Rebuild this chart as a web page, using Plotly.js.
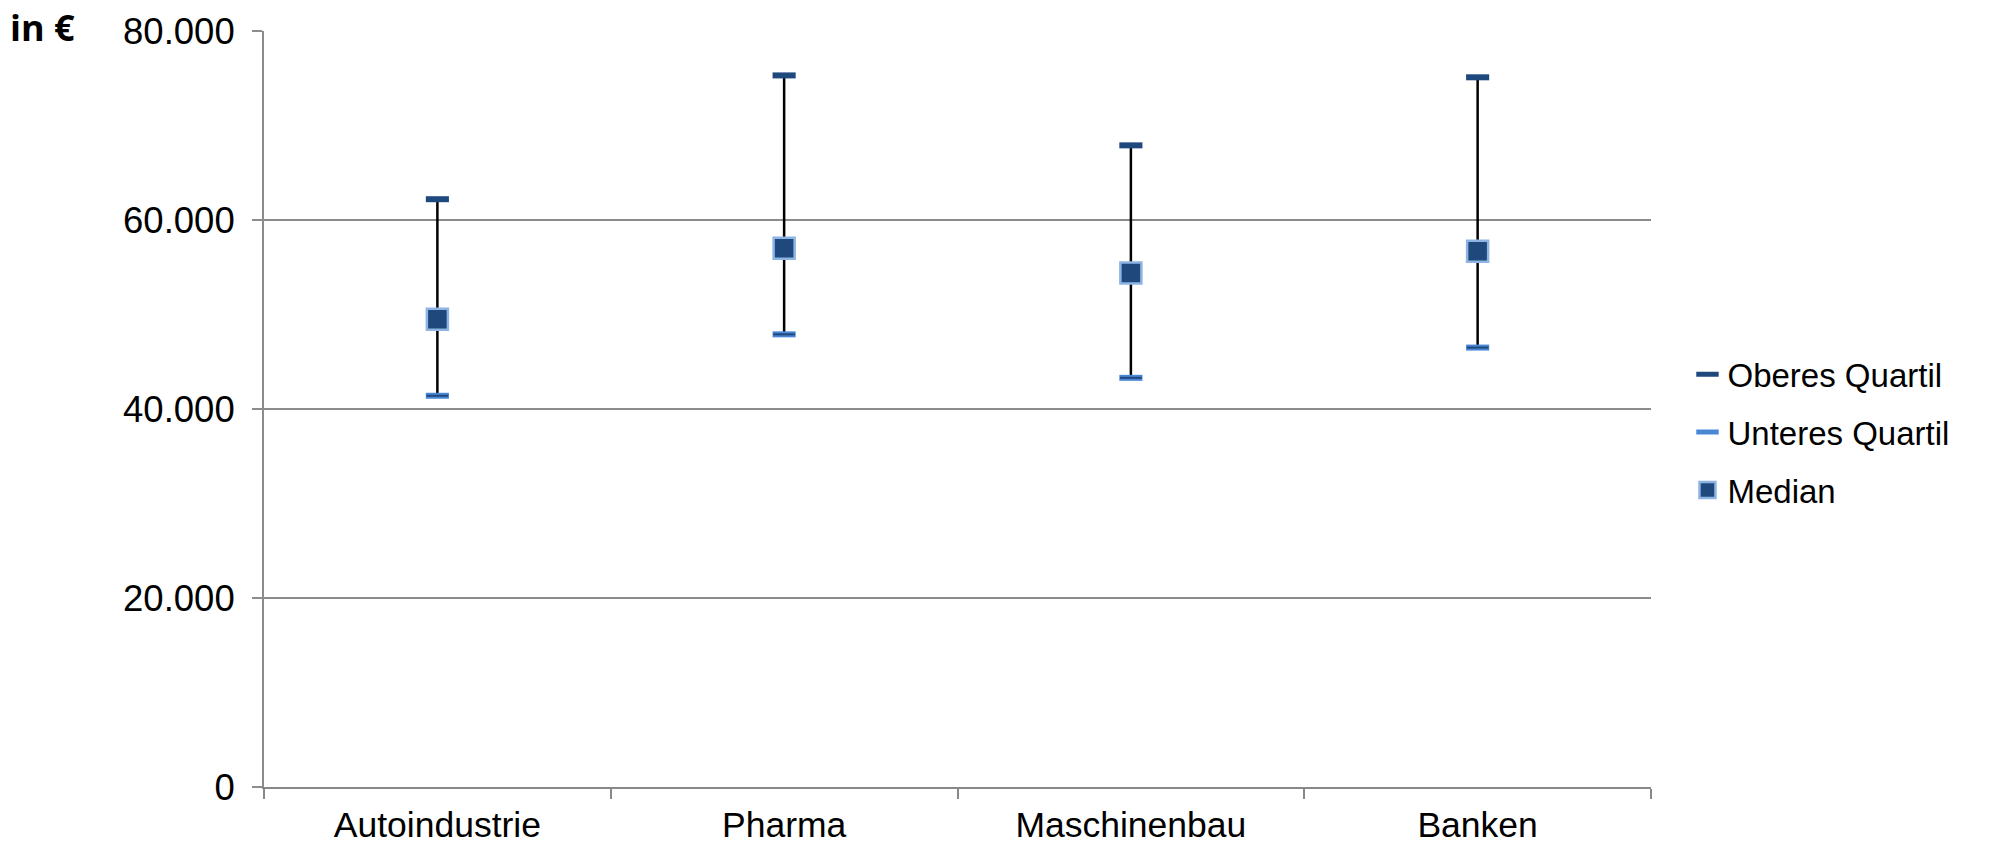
<!DOCTYPE html>
<html>
<head>
<meta charset="utf-8">
<script src="https://cdn.plot.ly/plotly-3.0.1.min.js"></script>
<style>html,body{margin:0;padding:0;background:#fff;}#chart{width:1995px;height:849px;}</style>
</head>
<body>
<div id="chart"></div>
<script>
const categories = ["Autoindustrie", "Pharma", "Maschinenbau", "Banken"];
const oberesQuartil = [62200, 75300, 67900, 75100];
const unteresQuartil = [41400, 47900, 43300, 46500];
const median = [49500, 57000, 54400, 56700];

const FONT = "Liberation Sans, Arial, sans-serif";
const dark = "#1F497D";
const lightBlue = "#4A86D6";

const span = oberesQuartil.map((v, i) => v - unteresQuartil[i]);

const traces = [
  {
    x: categories, y: unteresQuartil, type: "scatter", mode: "markers",
    marker: {size: 1, color: "rgba(0,0,0,0)"},
    error_y: {type: "data", symmetric: false, array: span, arrayminus: categories.map(() => 0),
              color: "#000", thickness: 2.5, width: 0},
    showlegend: false, hoverinfo: "skip"
  },
  {
    name: "Oberes Quartil", legendgroup: "a",
    x: categories, y: oberesQuartil, type: "scatter", mode: "markers",
    marker: {symbol: "line-ew", size: 16.5, line: {width: 6, color: dark}}
  },
  {
    name: "Unteres Quartil", legendgroup: "b",
    x: categories, y: unteresQuartil, type: "scatter", mode: "markers",
    marker: {symbol: "line-ew", size: 16.5, line: {width: 6, color: lightBlue}}
  },
  {
    name: "Unteres Quartil", legendgroup: "b", showlegend: false,
    x: categories, y: unteresQuartil, type: "scatter", mode: "markers",
    marker: {symbol: "line-ew", size: 15.5, line: {width: 2, color: dark}}
  },
  {
    name: "Median", legendgroup: "c",
    x: categories, y: median, type: "scatter", mode: "markers",
    marker: {symbol: "square", size: 21, color: dark, line: {width: 2.5, color: "#8DB4E2"}}
  }
];

const layout = {
  width: 1995, height: 849,
  margin: {l: 264, r: 344, t: 31, b: 62, pad: 0},
  paper_bgcolor: "#fff", plot_bgcolor: "#fff",
  separators: ",.",
  font: {family: FONT, size: 34, color: "#000"},
  showlegend: true,
  legend: {
    x: 1.0263, xanchor: "left", y: 0.583, yanchor: "top",
    font: {family: FONT, size: 33, color: "#000"},
    tracegroupgap: 12, bgcolor: "rgba(0,0,0,0)"
  },
  xaxis: {
    type: "category", range: [-0.5, 3.5],
    showgrid: false, zeroline: false,
    showline: true, linecolor: "#888", linewidth: 2,
    ticks: "outside", tickson: "boundaries", ticklen: 10, tickcolor: "#888", tickwidth: 2,
    tickfont: {family: FONT, size: 35.5, color: "#000"},
    ticklabelstandoff: 5
  },
  yaxis: {
    range: [0, 80000], dtick: 20000, tick0: 0, tickformat: ",d",
    showgrid: true, gridcolor: "#8c8c8c", gridwidth: 2,
    zeroline: false,
    showline: true, linecolor: "#8c8c8c", linewidth: 2,
    ticks: "outside", ticklen: 10, tickcolor: "#8c8c8c", tickwidth: 2,
    tickfont: {family: FONT, size: 36.5, color: "#000"},
    ticklabelstandoff: 10
  },
  annotations: [{
    text: "<b>in €</b>", xref: "paper", yref: "paper",
    x: -0.1846, xanchor: "left", y: 1.004, yanchor: "middle",
    showarrow: false, font: {family: "Open Sans, sans-serif", size: 36, color: "#000"}
  }]
};

Plotly.newPlot("chart", traces, layout, {displayModeBar: false, staticPlot: true});
</script>
</body>
</html>
